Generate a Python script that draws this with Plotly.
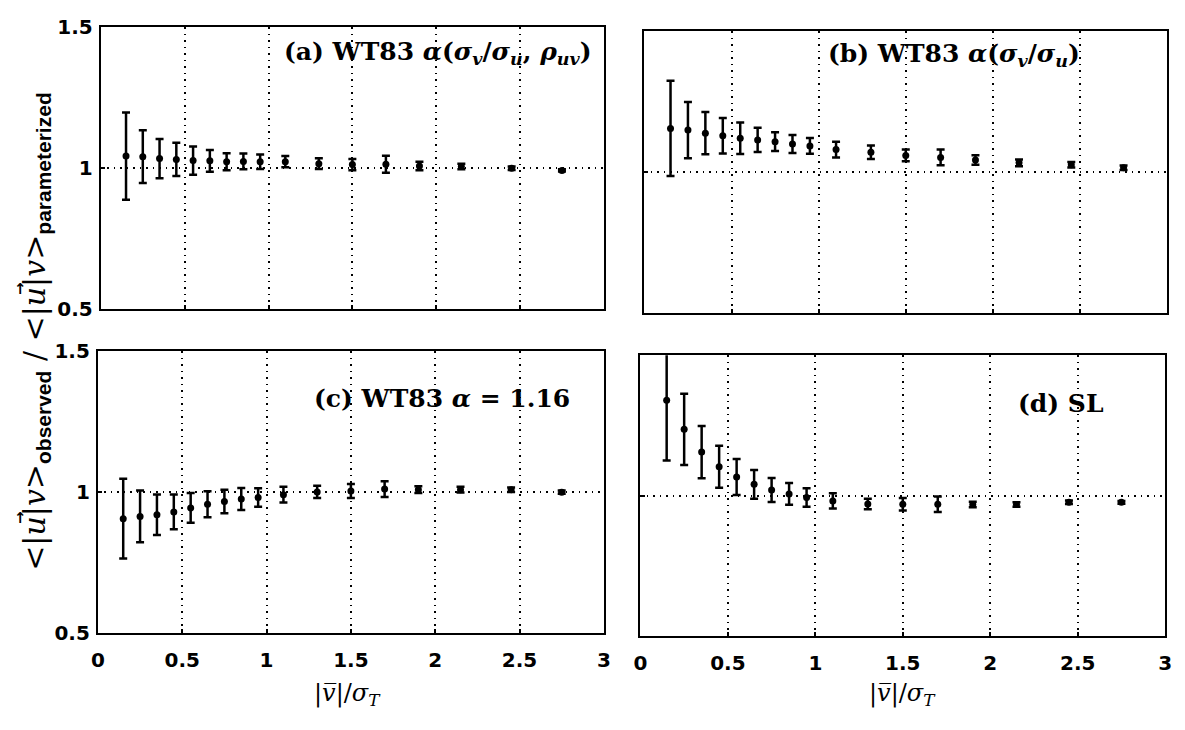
import plotly.graph_objects as go

W, H = 1185, 730

x_vals = [0.15, 0.25, 0.35, 0.45, 0.55, 0.65, 0.75, 0.85, 0.95, 1.1, 1.3, 1.5, 1.7, 1.9, 2.15, 2.45, 2.75]

y_a = [1.043, 1.041, 1.034, 1.031, 1.027, 1.026, 1.023, 1.024, 1.023, 1.023, 1.016, 1.013, 1.014, 1.008, 1.006, 1.0, 0.992]
e_a = [0.155, 0.094, 0.07, 0.059, 0.05, 0.039, 0.03, 0.028, 0.026, 0.02, 0.019, 0.02, 0.03, 0.015, 0.01, 0.006, 0.004]

y_b = [1.155, 1.149, 1.138, 1.129, 1.12, 1.114, 1.108, 1.1, 1.093, 1.08, 1.07, 1.059, 1.052, 1.043, 1.033, 1.026, 1.015]
e_b = [0.169, 0.1, 0.075, 0.063, 0.056, 0.043, 0.033, 0.032, 0.028, 0.028, 0.024, 0.021, 0.028, 0.017, 0.012, 0.01, 0.008]

y_c = [0.906, 0.914, 0.92, 0.93, 0.944, 0.957, 0.967, 0.976, 0.981, 0.991, 1.001, 1.004, 1.011, 1.009, 1.009, 1.009, 1.0]
e_c = [0.142, 0.092, 0.072, 0.062, 0.053, 0.046, 0.042, 0.039, 0.033, 0.028, 0.022, 0.025, 0.028, 0.012, 0.01, 0.008, 0.006]

y_d = [1.34, 1.236, 1.155, 1.103, 1.066, 1.04, 1.02, 1.006, 0.993, 0.981, 0.97, 0.969, 0.969, 0.968, 0.968, 0.976, 0.976]
e_d = [0.215, 0.127, 0.093, 0.075, 0.064, 0.051, 0.043, 0.039, 0.033, 0.027, 0.019, 0.022, 0.028, 0.01, 0.008, 0.006, 0.005]

x_ticks = [0, 0.5, 1, 1.5, 2, 2.5, 3]
x_ticktext = ["0", "0.5", "1", "1.5", "2", "2.5", "3"]
y_ticks = [0.5, 1, 1.5]
y_ticktext = ["0.5", "1", "1.5"]

titles = [
    "<b>(a) WT83 <i>α</i>(<i>σ<sub>v</sub></i>/<i>σ<sub>u</sub></i>, <i>ρ<sub>uv</sub></i>)</b>",
    "<b>(b) WT83 <i>α</i>(<i>σ<sub>v</sub></i>/<i>σ<sub>u</sub></i>)</b>",
    "<b>(c) WT83 <i>α</i> = 1.16</b>",
    "<b>(d) SL</b>",
]

# panel boxes in pixels: (left, right, top, bottom)
boxes = [(95, 604, 16, 307), (645, 1174, 20, 311), (92, 604, 351, 642), (641, 1172, 355, 645)]
title_pos = [(594, 42), (1088, 44), (572, 400), (1112, 405)]

series = [(y_a, e_a), (y_b, e_b), (y_c, e_c), (y_d, e_d)]

fig = go.Figure()
tick_font = dict(family="DejaVu Sans", size=20, color="black", weight=700)
dotdash = "1.5px,5px"

axes_layout = {}
for i, ((yv, ev), box) in enumerate(zip(series, boxes)):
    n = i + 1
    xa = "x" if n == 1 else f"x{n}"
    ya = "y" if n == 1 else f"y{n}"
    fig.add_trace(go.Scatter(
        x=x_vals, y=yv, mode="markers", xaxis=xa, yaxis=ya,
        marker=dict(color="black", size=7),
        error_y=dict(type="data", array=ev, color="black", thickness=2.5, width=4),
        showlegend=False, cliponaxis=True,
    ))
    l, r, t, b = box
    xkey = "xaxis" if n == 1 else f"xaxis{n}"
    ykey = "yaxis" if n == 1 else f"yaxis{n}"
    axes_layout[xkey] = go.layout.XAxis(
        domain=[l / W, r / W], range=[0, 3], anchor=ya,
        tickmode="array", tickvals=x_ticks, ticktext=x_ticktext, showticklabels=(n >= 3),
        ticks="inside", ticklen=4, tickcolor="black", tickwidth=1.5,
        showline=True, mirror=True, linecolor="black", linewidth=2.2,
        showgrid=True, gridcolor="black", griddash=dotdash, gridwidth=1.5,
        zeroline=False, tickfont=tick_font, ticklabelstandoff=8,
    )
    axes_layout[ykey] = go.layout.YAxis(
        domain=[1 - b / H, 1 - t / H], range=[0.5, 1.5], anchor=xa,
        tickmode="array", tickvals=y_ticks, ticktext=y_ticktext, showticklabels=(n in (1, 3)),
        ticks="inside", ticklen=4, tickcolor="black", tickwidth=1.5,
        showline=True, mirror=True, linecolor="black", linewidth=2.2,
        showgrid=True, gridcolor="black", griddash=dotdash, gridwidth=1.5,
        zeroline=False, tickfont=tick_font, ticklabelstandoff=2,
    )
    tx, ty = title_pos[i]
    fig.add_annotation(
        text=titles[i], xref="paper", yref="paper", x=tx / W, y=1 - ty / H,
        xanchor="right", yanchor="middle", showarrow=False,
        font=dict(family="DejaVu Serif", size=25, color="black"),
    )

sans = "font-family:'Liberation Sans';font-weight:bold"
ylab = (f"&lt;|<i>u</i>|<i>v</i>&gt;<sub><span style=\"{sans}\">observed</span></sub>"
        f" / &lt;|<i>u</i>|<i>v</i>&gt;<sub><span style=\"{sans}\">parameterized</span></sub>")
fig.add_annotation(
    text=ylab, xref="paper", yref="paper", x=29 / W, y=1 - 330 / H,
    xanchor="center", yanchor="middle", textangle=-90, showarrow=False,
    font=dict(family="DejaVu Serif", size=30, color="black"),
)
# vector arrows over the two u's (label is rotated, so the arrow points up)
for uy in (523, 286):
    fig.add_annotation(
        text="<b>↑</b>", xref="paper", yref="paper", x=14 / W, y=1 - uy / H,
        xanchor="center", yanchor="middle", showarrow=False,
        font=dict(family="DejaVu Sans", size=15, color="black"),
    )

xlab = "|<i>v̅</i>|/<i>σ<sub>T</sub></i>"
for cx in (345, 906):
    fig.add_annotation(
        text=xlab, xref="paper", yref="paper", x=cx / W, y=1 - 706 / H,
        xanchor="center", yanchor="middle", showarrow=False,
        font=dict(family="DejaVu Serif", size=24, color="black"),
    )

fig.update_layout(
    width=W, height=H, margin=dict(l=0, r=0, t=0, b=0),
    paper_bgcolor="white", plot_bgcolor="white",
    font=dict(family="DejaVu Sans", size=20, color="black"),
    **axes_layout,
)

fig.write_html("out.html")
